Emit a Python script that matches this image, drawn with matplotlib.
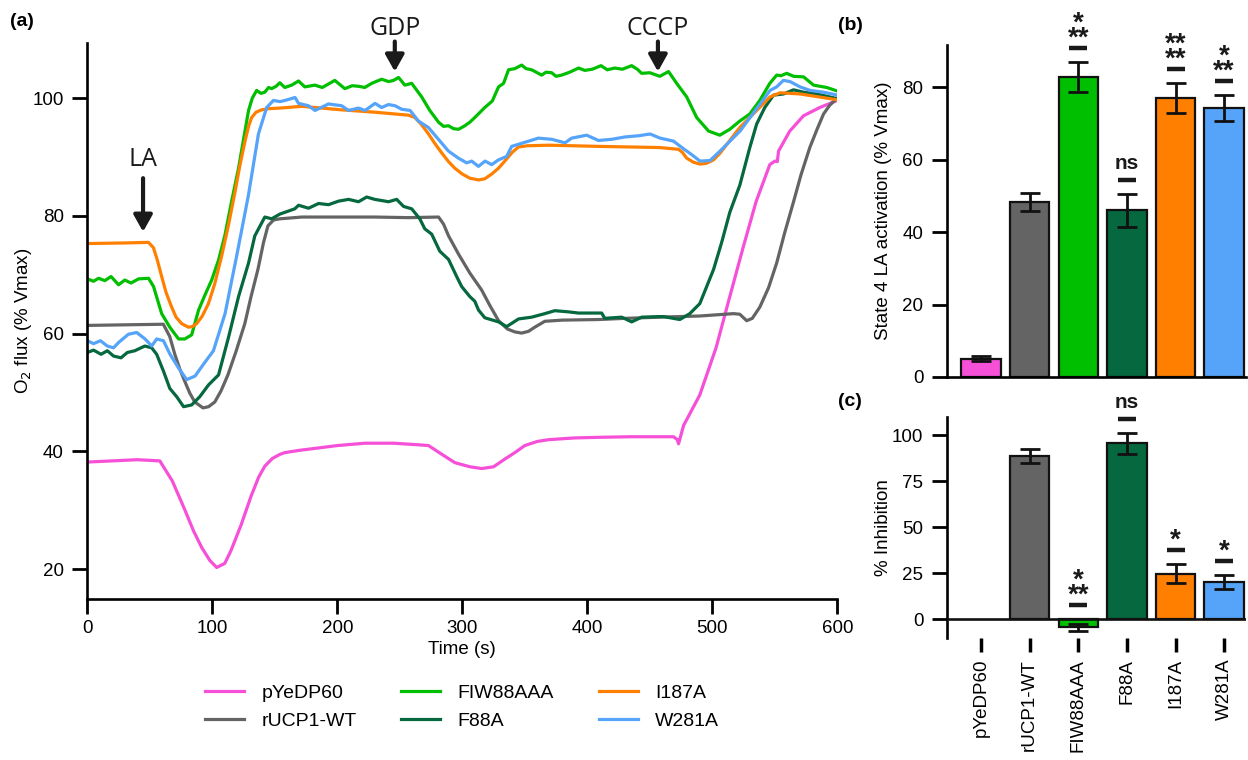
import numpy as np
import matplotlib
matplotlib.use("Agg")
import matplotlib.pyplot as plt
from matplotlib.transforms import offset_copy

plt.rcParams['font.family'] = ['Liberation Sans', 'DejaVu Sans']

# ---------------- data: panel (a) traces ----------------
series_names = ['pYeDP60', 'rUCP1-WT', 'FIW88AAA', 'F88A', 'I187A', 'W281A']
series_colors = ['#F650D8', '#646464', '#00BE00', '#05683F', '#FF8000', '#55A4FA']

pink_t = [0, 20, 40, 58, 68, 78, 85, 91.5, 98, 103.5, 110, 115, 123, 131, 137, 142, 148, 154, 158, 170,
          185, 200, 222, 245, 267, 273, 283, 294, 306, 315.5, 325, 334, 342, 350, 360, 369, 390, 409, 435, 458,
          469, 472, 473, 477, 490, 503, 514, 525, 535, 546, 550, 552, 553, 562, 573, 586, 600]
pink_v = [38.2, 38.4, 38.6, 38.4, 35.0, 30.1, 26.5, 23.7, 21.5, 20.3, 21.0, 23.2, 27.5, 32.4, 35.6, 37.5, 38.8, 39.5, 39.8, 40.2,
          40.6, 41.0, 41.4, 41.4, 41.1, 41.0, 39.6, 38.1, 37.4, 37.1, 37.4, 38.7, 39.8, 41.0, 41.7, 42.0, 42.3, 42.4, 42.5, 42.5,
          42.5, 42.0, 41.3, 44.4, 49.6, 57.6, 66.3, 74.9, 82.4, 88.7, 89.3, 89.2, 91.0, 94.4, 97.0, 98.4, 99.6]

gray_t = [0, 30, 60.8, 66, 70, 74, 78, 82, 86, 92.5, 97, 102, 107, 112.5, 119, 126, 131, 136.5, 141, 144.5,
          149, 154, 160, 171.5, 200, 230, 257, 281, 285, 289, 297, 306, 315.5, 322, 329, 336, 342, 347.5, 353, 358,
          366, 380, 409, 430, 458, 490, 517, 522, 527.5, 532, 538, 545, 551.5, 558, 565, 571, 578, 584, 589, 594, 600]
gray_v = [61.4, 61.5, 61.6, 59.5, 56.5, 54.0, 51.9, 49.9, 48.4, 47.4, 47.6, 48.4, 50.3, 53.0, 57.0, 61.7, 66.3, 70.9, 75.5, 78.3,
          79.3, 79.5, 79.6, 79.8, 79.8, 79.8, 79.7, 79.8, 78.6, 76.6, 73.5, 70.3, 67.4, 64.8, 62.2, 60.8, 60.3, 60.1, 60.4, 61.1,
          62.1, 62.3, 62.4, 62.6, 62.8, 63.0, 63.4, 63.3, 62.2, 62.6, 64.5, 67.8, 72.0, 77.2, 82.4, 87.0, 91.6, 94.8, 97.3, 98.8, 100.0]

green_t = [0, 5, 9, 14, 19, 25, 30, 35, 41, 49, 53, 59.5, 66, 73, 78, 83.5, 89, 94, 99.5, 105,
           110, 115, 121, 125, 129, 132, 135.5, 139, 142, 145, 147.5, 151, 154, 158, 163.5, 169, 174, 182, 188, 193,
           198, 206, 212, 217, 222, 227.5, 235.5, 241, 245, 249, 254, 259.5, 263, 267.5, 274, 281, 285, 289, 293, 297,
           302, 306, 310, 318, 324, 329, 333, 337, 342, 347.5, 351, 355.5, 363.5, 367, 371.5, 375, 379.5, 386, 393, 398,
           404, 411, 416, 422, 428, 435.5, 440, 443.5, 450, 458, 465, 471.5, 479.5, 487.5, 497, 506, 514, 522, 530, 538,
           546, 551.5, 555, 559.5, 565, 573, 581, 591.5, 600]
green_v = [69.3, 68.9, 69.4, 69.0, 69.7, 68.3, 69.1, 68.6, 69.3, 69.4, 68.0, 63.4, 61.1, 59.1, 59.1, 59.8, 64.0, 66.5, 69.1, 72.5,
           76.6, 82.0, 88.1, 93.0, 97.9, 100.0, 101.3, 100.8, 101.0, 101.8, 101.6, 102.0, 102.6, 101.8, 102.2, 102.9, 101.9, 102.2, 101.8, 102.4,
           103.0, 101.6, 102.1, 102.0, 101.8, 102.5, 103.2, 102.8, 103.0, 103.5, 102.2, 102.5, 101.5, 100.2, 97.9, 95.9, 95.2, 95.3, 94.8, 94.7,
           95.3, 95.9, 96.7, 98.4, 99.5, 101.9, 102.5, 104.8, 105.0, 105.6, 105.0, 104.8, 103.9, 104.4, 104.3, 103.7, 103.9, 104.4, 105.1, 104.7,
           104.9, 105.5, 104.8, 105.1, 104.9, 105.5, 104.9, 104.2, 104.3, 103.7, 104.5, 102.5, 100.2, 96.7, 94.4, 93.7, 94.7, 96.1, 97.3, 99.6,
           102.5, 103.9, 103.8, 104.2, 103.7, 103.6, 102.2, 101.8, 101.2]

dkgreen_t = [0, 5, 11, 16, 21, 27, 32, 38, 46, 51.5, 55.5, 61, 66, 71.5, 77, 83.5, 90, 97, 105, 113,
             121, 129, 134, 142, 147.5, 154, 158, 166, 169, 177, 185, 193, 201, 209, 217, 223.5, 230, 241, 247.5, 253,
             259.5, 266, 270, 275.5, 282, 289, 295.5, 299.5, 306, 310, 313, 318, 329, 335.5, 345, 355.5, 366, 374, 385, 393,
             401, 411.5, 414, 427.5, 435.5, 443.5, 458, 461, 474, 482, 490, 495.5, 501, 507.5, 514, 522, 530, 535.5, 542, 549,
             557, 565, 573, 583.5, 600]
dkgreen_v = [56.8, 57.2, 56.5, 57.1, 56.2, 55.9, 56.8, 57.1, 57.9, 57.6, 56.5, 53.6, 50.7, 49.3, 47.6, 47.9, 49.3, 51.3, 53.0, 59.4,
             66.3, 72.0, 76.6, 79.8, 79.5, 80.3, 80.6, 81.2, 81.8, 81.3, 82.1, 81.9, 82.5, 82.8, 82.4, 83.2, 82.8, 82.4, 82.8, 81.6,
             81.2, 79.5, 77.8, 76.9, 74.0, 72.6, 69.7, 68.0, 66.3, 65.5, 64.0, 62.7, 62.0, 61.2, 62.5, 62.8, 63.4, 63.9, 63.7, 63.5,
             63.5, 63.5, 62.6, 62.8, 62.0, 62.8, 62.9, 62.9, 62.4, 63.4, 65.1, 68.0, 70.9, 75.5, 80.6, 85.2, 91.6, 95.6, 98.4, 100.5,
             100.7, 101.4, 101.0, 100.7, 99.9]

orange_t = [0, 30, 48.9, 52.9, 56, 59.5, 63, 67.5, 71, 75.5, 80.9, 84, 87.5, 92, 96.9, 102, 107.5, 113, 118.2, 122,
            126.2, 129, 131.5, 135, 139.5, 145, 154.2, 171.5, 203.5, 230, 257, 262, 267, 273, 278, 283.5, 289, 294, 300, 306,
            313, 318, 323.5, 329, 334, 340, 345, 352, 369, 409, 458, 473, 476, 479.5, 485, 490, 495, 500.9, 506, 511.5,
            522, 535.5, 546.2, 554.2, 570.2, 600]
orange_v = [75.3, 75.4, 75.5, 74.6, 72.5, 69.7, 67.0, 64.5, 62.8, 61.7, 61.1, 61.2, 61.7, 63.0, 65.1, 68.5, 73.2, 78.5, 84.1, 88.5,
            92.7, 95.2, 96.7, 97.6, 98.0, 98.2, 98.3, 98.6, 98.0, 97.6, 97.1, 96.7, 95.6, 93.9, 92.3, 90.7, 89.2, 88.1, 87.1, 86.4,
            86.1, 86.3, 87.1, 88.1, 89.3, 90.8, 91.7, 91.9, 92.0, 91.8, 91.6, 91.3, 90.8, 89.8, 89.1, 88.8, 88.9, 89.5, 90.6, 92.1,
            95.0, 97.9, 100.2, 100.9, 100.7, 99.7]

blue_t = [0, 5, 10.5, 16, 21, 25, 32.9, 39.5, 46.2, 51.5, 55.5, 60.9, 66.2, 72.9, 79.5, 86.2, 92.9, 100.9, 110.2, 119.5,
          128.9, 136.9, 143.5, 148.9, 154.2, 158.2, 166.2, 169, 176.9, 182.2, 192.9, 203.5, 208.9, 216.9, 222.2, 230.2, 235.5, 240.9, 246.2, 251.5,
          258.2, 264.9, 272.9, 280.9, 288.9, 296.9, 303.5, 307.5, 312.9, 318.2, 323.5, 328.9, 335.5, 339.5, 350.2, 360.9, 371.5, 382.2, 387.5, 399.5,
          408.9, 419.5, 430.2, 440.9, 450.2, 458.2, 468.9, 476.9, 483.5, 490.2, 498.2, 506.2, 514.2, 522.2, 530.2, 538.2, 546.2, 551.5, 556.9, 562.2,
          570.2, 578.2, 588.9, 600]
blue_v = [58.8, 58.3, 58.8, 57.9, 57.6, 58.5, 59.9, 60.2, 59.1, 57.9, 59.1, 58.8, 56.5, 54.2, 52.2, 52.8, 54.8, 57.1, 63.4, 73.2,
          83.5, 93.9, 98.4, 99.6, 99.4, 99.6, 100.1, 99.1, 98.7, 97.9, 99.0, 98.7, 97.9, 98.3, 97.9, 99.1, 98.4, 98.9, 98.7, 98.1,
          97.9, 96.1, 95.0, 93.0, 91.0, 89.8, 89.0, 89.3, 88.4, 89.3, 88.7, 89.5, 90.1, 91.8, 92.5, 93.2, 93.0, 92.4, 93.2, 93.7,
          92.8, 93.0, 93.4, 93.6, 93.9, 93.2, 92.7, 91.4, 90.4, 89.3, 89.4, 91.0, 92.7, 94.4, 96.7, 99.0, 101.3, 101.9, 103.0, 102.8,
          101.9, 101.3, 101.0, 100.5]

traces = [(pink_t, pink_v), (gray_t, gray_v), (green_t, green_v),
          (dkgreen_t, dkgreen_v), (orange_t, orange_v), (blue_t, blue_v)]

# additions (label, time, arrow tail value, arrow tip value, text value)
add_labels = ['LA', 'GDP', 'CCCP']
add_times = [44.6, 246, 456.5]
add_tail = [86.4, 109.6, 109.6]
add_tip = [77.3, 104.5, 104.5]
add_text = [89.6, 111.8, 111.8]

# ---------------- data: panels (b) and (c) ----------------
bar_labels = ['pYeDP60', 'rUCP1-WT', 'FIW88AAA', 'F88A', 'I187A', 'W281A']
act_mean = [5.0, 48.2, 82.7, 46.0, 77.0, 74.2]
act_err = [0.7, 2.5, 4.2, 4.5, 4.2, 3.6]
act_sig = ['', '', '***', 'ns', '****', '***']

inh_mean = [np.nan, 88.9, -4.5, 95.6, 24.6, 20.2]
inh_err = [np.nan, 3.9, 2.0, 5.5, 5.2, 4.0]
inh_sig = ['', '', '***', 'ns', '*', '*']

# ---------------- figure ----------------
W, H = 1248, 760
fig = plt.figure(figsize=(W / 100, H / 100), dpi=100)

def frac(x0, y_top, x1, y_bot):
    return [x0 / W, 1 - y_bot / H, (x1 - x0) / W, (y_bot - y_top) / H]

FS = 13.5
SPW = 1.9
TL = 10.5
TP = 6.5

ax = fig.add_axes(frac(87.3, 43.3, 837.3, 598.7))
for (t, v), c, n in zip(traces, series_colors, series_names):
    ax.plot(t, v, color=c, lw=2.3, label=n, solid_joinstyle='round')
ax.set_xlim(0, 600)
ax.set_ylim(15, 109.3)
ax.set_xticks(range(0, 601, 100))
ax.set_yticks([20, 40, 60, 80, 100])
ax.spines[['top', 'right']].set_visible(False)
for s in ['left', 'bottom']:
    ax.spines[s].set_linewidth(SPW)
ax.tick_params(length=TL, width=2, labelsize=FS, pad=TP)
ax.tick_params(axis='x', pad=5)
ax.set_xlabel('Time (s)', fontsize=FS, labelpad=3)
ax.set_ylabel('O$_2$ flux (% Vmax)', fontsize=FS)
ax.yaxis.set_label_coords((34 - 87.3) / 750, 0.5)

for lab, tt, tail, tip, tv in zip(add_labels, add_times, add_tail, add_tip, add_text):
    ax.annotate('', xy=(tt, tip), xytext=(tt, tail),
                arrowprops=dict(arrowstyle='-|>,head_length=0.5,head_width=0.28', lw=3,
                                color='#1a1a1a', shrinkA=0, shrinkB=0, mutation_scale=20),
                annotation_clip=False)
    ax.text(tt, tv, lab, ha='center', va='center', fontsize=18, family='Open Sans',
            color='#1a1a1a', clip_on=False)

fig.legend(loc='center', bbox_to_anchor=(462 / W, 1 - 707 / H), ncol=3, frameon=False,
           fontsize=14, handlelength=2.0, columnspacing=2.3, handletextpad=0.9,
           labelspacing=0.55)

# ---- bar panels ----
x = np.arange(len(bar_labels))

def sig_marks(axb, means, errs, labels):
    for xi, m, e, s in zip(x, means, errs, labels):
        if not s:
            continue
        anchor = max(m + e, 0)
        tr_dash = offset_copy(axb.transData, fig=fig, x=0, y=10, units='points')
        axb.plot([xi], [anchor], transform=tr_dash, marker='_', ms=13.5, mew=3.2,
                 color='#1a1a1a', clip_on=False)
        if s == 'ns':
            tr = offset_copy(axb.transData, fig=fig, x=0, y=22, units='points')
            axb.text(xi, anchor, 'ns', transform=tr, ha='center', va='center',
                     fontsize=15, fontweight='bold', color='#1a1a1a', clip_on=False)
        else:
            n = len(s)
            rows = ['*'] if n == 1 else (['*', '**'] if n == 3 else ['**', '**'])
            tr = offset_copy(axb.transData, fig=fig, x=0, y=11.8, units='points')
            axb.text(xi, anchor, '\n'.join(rows), transform=tr, ha='center', va='baseline',
                     multialignment='center', linespacing=0.45,
                     fontsize=20, fontweight='bold', color='#1a1a1a', clip_on=False)

YLX = (892 - 947) / 299

axb = fig.add_axes(frac(947, 45, 1246, 377))
axb.bar(x, act_mean, width=0.81, color=series_colors, edgecolor='#111111', linewidth=1.6, zorder=2)
axb.errorbar(x, act_mean, yerr=act_err, fmt='none', ecolor='#111111', elinewidth=2,
             capsize=7, capthick=2, zorder=3)
axb.set_xlim(-0.7, 5.45)
axb.set_ylim(0, 91.6)
axb.set_yticks([0, 20, 40, 60, 80])
axb.set_xticks([])
axb.spines[['top', 'right']].set_visible(False)
axb.spines['left'].set_linewidth(SPW)
axb.spines['bottom'].set_linewidth(SPW)
axb.tick_params(length=TL, width=2, labelsize=FS, pad=TP)
axb.set_ylabel('State 4 LA activation (% Vmax)', fontsize=FS)
axb.yaxis.set_label_coords(YLX, 0.5)
sig_marks(axb, act_mean, act_err, act_sig)

axc = fig.add_axes(frac(947, 417, 1246, 638))
axc.bar(x, inh_mean, width=0.81, color=series_colors, edgecolor='#111111', linewidth=1.6, zorder=2)
axc.errorbar(x, inh_mean, yerr=inh_err, fmt='none', ecolor='#111111', elinewidth=2,
             capsize=7, capthick=2, zorder=3)
axc.axhline(0, color='#111111', lw=1.9, zorder=4)
axc.set_xlim(-0.7, 5.45)
axc.set_ylim(-10.3, 110)
axc.set_yticks([0, 25, 50, 75, 100])
axc.set_xticks(x)
axc.set_xticklabels(bar_labels, rotation=90)
axc.spines[['top', 'right', 'bottom']].set_visible(False)
axc.spines['left'].set_linewidth(SPW)
axc.tick_params(axis='y', length=TL, width=2, labelsize=FS, pad=TP)
axc.tick_params(axis='x', length=10, width=2.5, labelsize=FS, pad=5)
axc.set_ylabel('% Inhibition', fontsize=FS)
axc.yaxis.set_label_coords(YLX, 0.5)
sig_marks(axc, inh_mean, inh_err, inh_sig)

fig.text(10 / W, 1 - 22 / H, '(a)', fontsize=14, fontweight='bold', va='center', ha='left')
fig.text(838 / W, 1 - 25 / H, '(b)', fontsize=14, fontweight='bold', va='center', ha='left')
fig.text(838 / W, 1 - 402 / H, '(c)', fontsize=14, fontweight='bold', va='center', ha='left')

fig.savefig('out.png', dpi=100)
